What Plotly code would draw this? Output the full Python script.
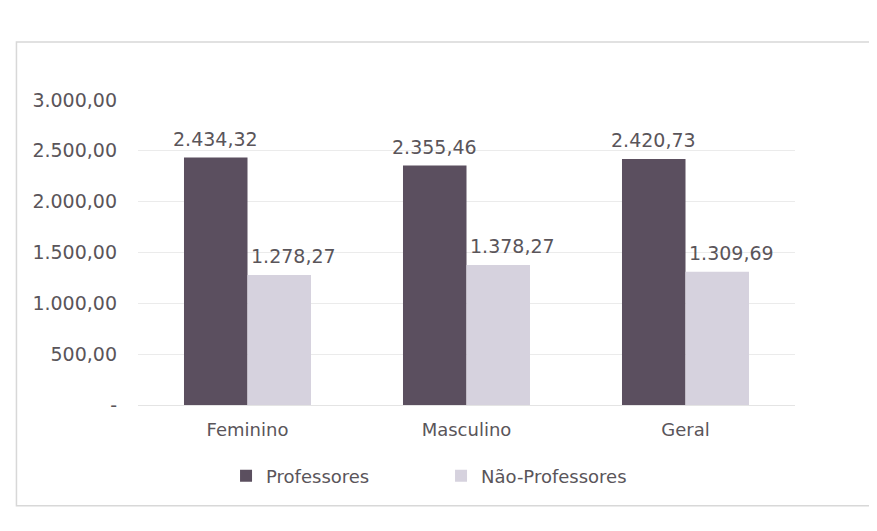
import plotly.graph_objects as go

categories = ["Feminino", "Masculino", "Geral"]
professores = [2434.32, 2355.46, 2420.73]
nao_professores = [1278.27, 1378.27, 1309.69]
series_names = ["Professores", "Não-Professores"]
tick_values = [0, 500, 1000, 1500, 2000, 2500, 3000]
tick_labels = ["-", "500,00", "1.000,00", "1.500,00", "2.000,00", "2.500,00", "3.000,00"]


def fmt(v):
    s = f"{v:,.2f}"
    return s.replace(",", "X").replace(".", ",").replace("X", ".")


dark = "#5b4f5f"
light = "#d6d2de"
txt = "#5a555a"
font_family = "DejaVu Sans, sans-serif"

fig = go.Figure()
fig.add_trace(go.Bar(
    x=categories, y=professores, name=series_names[0],
    marker=dict(color=dark, line=dict(width=0)),
))
fig.add_trace(go.Bar(
    x=categories, y=nao_professores, name=series_names[1],
    marker=dict(color=light, line=dict(width=0)),
))

annotations = []
for c, v in zip(categories, professores):
    annotations.append(dict(x=c, y=v, xref="x", yref="y", text=fmt(v), showarrow=False,
                            xanchor="center", yanchor="bottom", xshift=-32, yshift=6,
                            font=dict(size=19, color=txt)))
for c, v in zip(categories, nao_professores):
    annotations.append(dict(x=c, y=v, xref="x", yref="y", text=fmt(v), showarrow=False,
                            xanchor="center", yanchor="bottom", xshift=46, yshift=6,
                            font=dict(size=19, color=txt)))

fig.update_layout(
    width=877, height=531,
    margin=dict(l=130, r=90, t=92, b=134, autoexpand=False),
    paper_bgcolor="white", plot_bgcolor="white",
    barmode="group", bargap=0.42, bargroupgap=0.0,
    font=dict(family=font_family, size=17, color=txt),
    showlegend=True,
    legend=dict(orientation="h", x=0.134, xanchor="left", y=-0.233, yanchor="middle",
                font=dict(size=18, color=txt), itemwidth=30, traceorder="normal",
                entrywidth=170, entrywidthmode="pixels"),
    xaxis=dict(showgrid=False, showline=True, linecolor="#e4e4e4", ticks="",
               tickfont=dict(size=18, color=txt), ticklabelstandoff=8),
    yaxis=dict(range=[0, 3000], tickvals=tick_values, ticktext=tick_labels,
               showgrid=True, gridcolor="#ebebeb", zeroline=False, showline=False,
               ticks="", tickfont=dict(size=19, color=txt), ticklabelstandoff=20),
    annotations=annotations,
    shapes=[dict(type="rect", xref="paper", yref="paper",
                 x0=-0.185, x1=1.121, y0=-0.33, y1=1.19,
                 line=dict(color="#d8d8d8", width=1.5), fillcolor="rgba(0,0,0,0)",
                 layer="below")],
)

fig.write_html("out.html")
